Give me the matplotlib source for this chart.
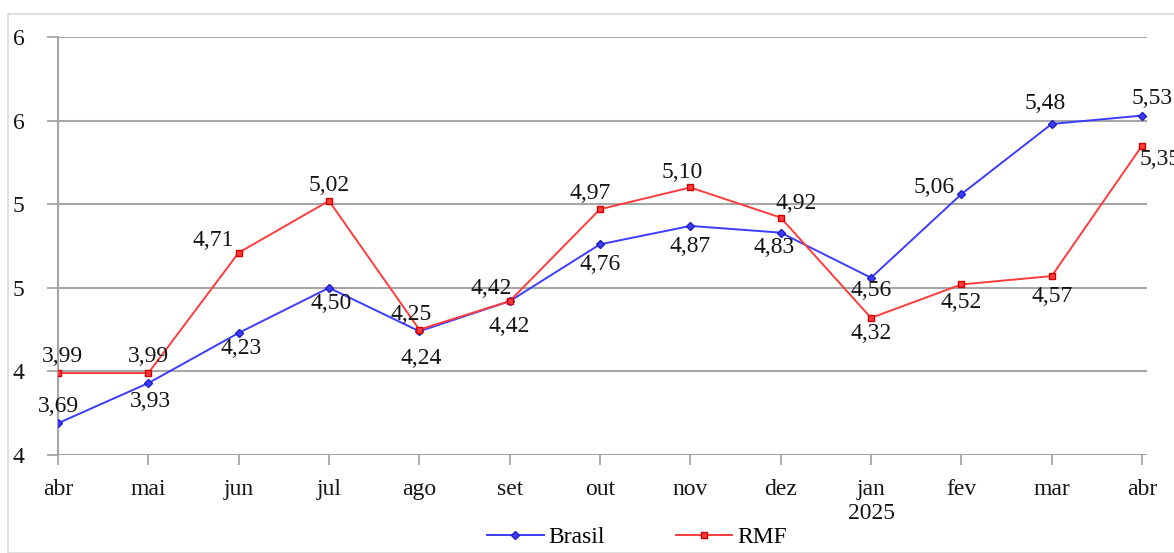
import matplotlib.pyplot as plt
from matplotlib.patches import Rectangle
from matplotlib.ticker import FixedLocator, FuncFormatter

months = ["abr", "mai", "jun", "jul", "ago", "set", "out", "nov", "dez",
          "jan\n2025", "fev", "mar", "abr"]
brasil = [3.69, 3.93, 4.23, 4.50, 4.24, 4.42, 4.76, 4.87, 4.83, 4.56, 5.06, 5.48, 5.53]
rmf = [3.99, 3.99, 4.71, 5.02, 4.25, 4.42, 4.97, 5.10, 4.92, 4.32, 4.52, 4.57, 5.35]
y_ticks = [3.5, 4.0, 4.5, 5.0, 5.5, 6.0]

# label offsets in pixels (dx, dy), tuned by eye
brasil_off = [(0, 17), (2, -18), (2, -16), (2, -16), (2, -27), (0, -25), (0, -20),
              (0, -21), (-7, -15), (0, -13), (-27, 7), (-7, 20), (10, 17)]
rmf_off = [(4, 17), (0, 17), (-25, 12), (0, 15), (-8, 15), (-18, 13), (-10, 16),
           (-8, 15), (15, 14), (0, -16), (0, -18), (0, -20), (18, -14)]

BLUE = "#3c3cff"
RED = "#ff3c3c"
GRID = "#a6a6a6"
TXT = "#141414"
FONT = "Liberation Serif"
FS = 17

plt.rcParams["font.family"] = [FONT, "DejaVu Serif"]

fig = plt.figure(figsize=(11.74, 5.53), dpi=100)
W, H = 1174, 553
ax = fig.add_axes([58 / W, (H - 455) / H, (1147 - 58) / W, (455 - 37) / H])

fig.patches.append(Rectangle((8 / W, 0), 1.1, (H - 14) / H, transform=fig.transFigure,
                             fill=False, edgecolor="#d9d9d9", linewidth=1.2, zorder=0))

x = list(range(len(months)))
ax.plot(x, brasil, color=BLUE, lw=1.4, marker="D", ms=4.5, mfc=BLUE, mec="#2020c0",
        label="Brasil", zorder=3)
ax.plot(x, rmf, color=RED, lw=1.4, marker="s", ms=5, mfc=RED, mec="#d00000",
        label="RMF", zorder=4)

for xi, v, (dx, dy) in zip(x, brasil, brasil_off):
    ax.annotate(f"{v:.2f}".replace(".", ","), (xi, v), xytext=(dx * 0.72, dy * 0.72),
                textcoords="offset points", ha="center", va="center", fontsize=FS,
                color=TXT, zorder=5)
for xi, v, (dx, dy) in zip(x, rmf, rmf_off):
    ax.annotate(f"{v:.2f}".replace(".", ","), (xi, v), xytext=(dx * 0.72, dy * 0.72),
                textcoords="offset points", ha="center", va="center", fontsize=FS,
                color=TXT, zorder=5, annotation_clip=False)

ax.set_xlim(0, 12.055)
ax.set_ylim(3.5, 6.0)
ax.set_xticks(x)
ax.set_xticklabels(months, fontsize=FS, linespacing=1.2)
ax.yaxis.set_major_locator(FixedLocator(y_ticks))
ax.yaxis.set_major_formatter(FuncFormatter(lambda v, p: f"{int(v + 0.5)}"))
ax.tick_params(axis="y", labelsize=FS, length=8, width=1.3, color=GRID, pad=16)
ax.tick_params(axis="x", length=7, width=1.3, color=GRID, pad=10)
for lab in ax.get_yticklabels():
    lab.set_color(TXT)
for lab in ax.get_xticklabels():
    lab.set_color(TXT)
    lab.set_verticalalignment("top")

ax.grid(axis="y", color=GRID, lw=1.5)
ax.set_axisbelow(True)
for s in ["top", "right", "bottom"]:
    ax.spines[s].set_visible(False)
ax.spines["left"].set_color(GRID)
ax.spines["left"].set_linewidth(1.5)

fig.legend(loc="center", bbox_to_anchor=(637 / W, (H - 537) / H), ncol=2, frameon=False,
           fontsize=FS, handlelength=2.4, handletextpad=0.2, columnspacing=3.0)

fig.savefig("out.png", dpi=100)
